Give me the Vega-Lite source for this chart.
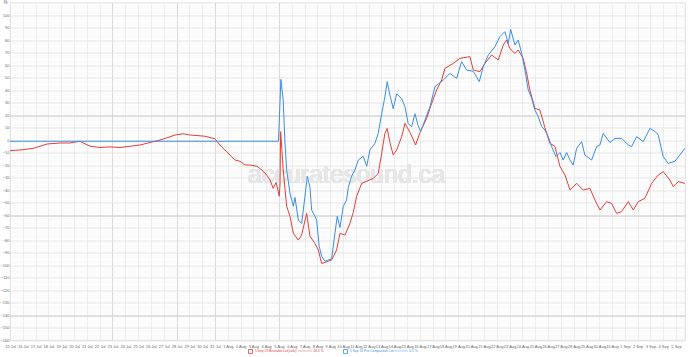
{
  "$schema": "https://vega.github.io/schema/vega-lite/v6.json",
  "width": 675,
  "height": 337.5,
  "autosize": {"type": "none"},
  "padding": {"left": 10, "top": 2.5, "right": 5, "bottom": 14.5},
  "background": "#ffffff",
  "config": {
    "view": {"stroke": "#d4d4d4", "strokeWidth": 0.8},
    "axis": {"labelFont": "Liberation Sans", "labelColor": "#666666", "labelFontSize": 4, "domain": false, "ticks": false, "title": null}
  },
  "data": {"values": [
    {"s":"r","t":0,"v":-8.5},{"s":"r","t":0.78,"v":-8},{"s":"r","t":1.80,"v":-6.7},{"s":"r","t":2.89,"v":-3.2},{"s":"r","t":3.90,"v":-2.4},{"s":"r","t":4.68,"v":-2.4},{"s":"r","t":5.46,"v":-1},{"s":"r","t":6.25,"v":-5},{"s":"r","t":7.03,"v":-6},{"s":"r","t":7.81,"v":-5.5},{"s":"r","t":8.59,"v":-6},{"s":"r","t":9.37,"v":-5},{"s":"r","t":10.15,"v":-4},{"s":"r","t":10.93,"v":-2},{"s":"r","t":11.71,"v":0},{"s":"r","t":12.33,"v":2},{"s":"r","t":12.88,"v":4},{"s":"r","t":13.51,"v":5},{"s":"r","t":14.05,"v":4},{"s":"r","t":14.68,"v":3.5},{"s":"r","t":15.22,"v":3},{"s":"r","t":16.00,"v":1},{"s":"r","t":16.39,"v":-4},{"s":"r","t":16.78,"v":-8},{"s":"r","t":17.17,"v":-12},{"s":"r","t":17.56,"v":-16},{"s":"r","t":17.95,"v":-17},{"s":"r","t":18.35,"v":-20},{"s":"r","t":18.74,"v":-20},{"s":"r","t":19.28,"v":-21},{"s":"r","t":19.67,"v":-24},{"s":"r","t":20.04,"v":-28},{"s":"r","t":20.30,"v":-32},{"s":"r","t":20.55,"v":-38.7},{"s":"r","t":20.77,"v":-34},{"s":"r","t":20.92,"v":-40},{"s":"r","t":21.02,"v":-45},{"s":"r","t":21.08,"v":-36},{"s":"r","t":21.13,"v":6.7},{"s":"r","t":21.23,"v":-8},{"s":"r","t":21.33,"v":-24},{"s":"r","t":21.60,"v":-53},{"s":"r","t":21.86,"v":-61},{"s":"r","t":22.12,"v":-74.7},{"s":"r","t":22.51,"v":-80},{"s":"r","t":22.77,"v":-76},{"s":"r","t":23.16,"v":-58.7},{"s":"r","t":23.42,"v":-77},{"s":"r","t":23.81,"v":-82.7},{"s":"r","t":24.07,"v":-88},{"s":"r","t":24.33,"v":-98.7},{"s":"r","t":24.59,"v":-98},{"s":"r","t":24.82,"v":-97},{"s":"r","t":25.11,"v":-96},{"s":"r","t":25.50,"v":-88},{"s":"r","t":25.76,"v":-74.7},{"s":"r","t":26.15,"v":-76},{"s":"r","t":26.54,"v":-66.7},{"s":"r","t":26.80,"v":-58},{"s":"r","t":27.06,"v":-45},{"s":"r","t":27.46,"v":-34.7},{"s":"r","t":27.85,"v":-33},{"s":"r","t":28.36,"v":-30.7},{"s":"r","t":28.75,"v":-26.7},{"s":"r","t":29.02,"v":-10.7},{"s":"r","t":29.27,"v":5.3},{"s":"r","t":29.45,"v":9.3},{"s":"r","t":29.66,"v":-2},{"s":"r","t":29.92,"v":-12},{"s":"r","t":30.19,"v":-8},{"s":"r","t":30.58,"v":2.7},{"s":"r","t":30.84,"v":13.3},{"s":"r","t":31.23,"v":6},{"s":"r","t":31.67,"v":-4},{"s":"r","t":32.01,"v":6},{"s":"r","t":32.53,"v":17.3},{"s":"r","t":32.92,"v":29.3},{"s":"r","t":33.31,"v":40},{"s":"r","t":33.70,"v":48},{"s":"r","t":33.96,"v":57.3},{"s":"r","t":34.61,"v":61.3},{"s":"r","t":35.13,"v":65.3},{"s":"r","t":35.91,"v":66.7},{"s":"r","t":36.17,"v":56},{"s":"r","t":36.69,"v":54.7},{"s":"r","t":37.08,"v":61.3},{"s":"r","t":37.60,"v":68},{"s":"r","t":38.12,"v":64},{"s":"r","t":38.51,"v":76},{"s":"r","t":38.77,"v":80},{"s":"r","t":39.03,"v":73},{"s":"r","t":39.42,"v":69.3},{"s":"r","t":39.68,"v":72},{"s":"r","t":40.07,"v":65.3},{"s":"r","t":40.34,"v":53.3},{"s":"r","t":40.59,"v":40},{"s":"r","t":40.98,"v":25.3},{"s":"r","t":41.37,"v":24},{"s":"r","t":41.76,"v":10},{"s":"r","t":42.15,"v":-2.7},{"s":"r","t":42.54,"v":-5},{"s":"r","t":42.94,"v":-21.3},{"s":"r","t":43.33,"v":-28},{"s":"r","t":43.72,"v":-40},{"s":"r","t":44.24,"v":-34.7},{"s":"r","t":44.75,"v":-40},{"s":"r","t":45.28,"v":-38.7},{"s":"r","t":45.67,"v":-48},{"s":"r","t":46.06,"v":-56},{"s":"r","t":46.58,"v":-49.3},{"s":"r","t":46.97,"v":-50.7},{"s":"r","t":47.36,"v":-58.7},{"s":"r","t":47.75,"v":-57.3},{"s":"r","t":48.27,"v":-49.3},{"s":"r","t":48.66,"v":-56},{"s":"r","t":49.05,"v":-49.3},{"s":"r","t":49.57,"v":-46.7},{"s":"r","t":50.09,"v":-34.7},{"s":"r","t":50.61,"v":-28},{"s":"r","t":51.00,"v":-25.3},{"s":"r","t":51.52,"v":-32},{"s":"r","t":51.78,"v":-37.3},{"s":"r","t":52.17,"v":-33.3},{"s":"r","t":52.69,"v":-34.7},
    {"s":"b","t":0,"v":-1},{"s":"b","t":7.03,"v":-1},{"s":"b","t":14.83,"v":-1},{"s":"b","t":20.96,"v":-1},{"s":"b","t":21.15,"v":48.5},{"s":"b","t":21.33,"v":32},{"s":"b","t":21.47,"v":-2.4},{"s":"b","t":21.60,"v":-24},{"s":"b","t":21.86,"v":-42.7},{"s":"b","t":22.12,"v":-53},{"s":"b","t":22.25,"v":-46},{"s":"b","t":22.51,"v":-64},{"s":"b","t":22.77,"v":-66.7},{"s":"b","t":23.03,"v":-45},{"s":"b","t":23.21,"v":-29},{"s":"b","t":23.42,"v":-38},{"s":"b","t":23.55,"v":-56},{"s":"b","t":23.81,"v":-61},{"s":"b","t":23.94,"v":-64},{"s":"b","t":24.14,"v":-85},{"s":"b","t":24.33,"v":-93},{"s":"b","t":24.59,"v":-97},{"s":"b","t":24.85,"v":-96},{"s":"b","t":25.11,"v":-95},{"s":"b","t":25.37,"v":-74.7},{"s":"b","t":25.55,"v":-61},{"s":"b","t":25.76,"v":-70},{"s":"b","t":26.02,"v":-53},{"s":"b","t":26.28,"v":-48},{"s":"b","t":26.41,"v":-38},{"s":"b","t":26.67,"v":-29},{"s":"b","t":26.93,"v":-24},{"s":"b","t":27.19,"v":-16},{"s":"b","t":27.58,"v":-13},{"s":"b","t":27.85,"v":-21},{"s":"b","t":28.10,"v":-8},{"s":"b","t":28.49,"v":-2.7},{"s":"b","t":28.75,"v":5.3},{"s":"b","t":29.02,"v":21},{"s":"b","t":29.27,"v":34.7},{"s":"b","t":29.45,"v":46.7},{"s":"b","t":29.66,"v":36},{"s":"b","t":29.92,"v":25},{"s":"b","t":30.19,"v":37},{"s":"b","t":30.58,"v":33},{"s":"b","t":30.84,"v":26.7},{"s":"b","t":31.09,"v":13},{"s":"b","t":31.36,"v":10.7},{"s":"b","t":31.62,"v":21},{"s":"b","t":31.85,"v":12},{"s":"b","t":32.06,"v":6.7},{"s":"b","t":32.40,"v":16},{"s":"b","t":32.79,"v":26.7},{"s":"b","t":33.18,"v":42.7},{"s":"b","t":33.83,"v":48},{"s":"b","t":34.35,"v":53.3},{"s":"b","t":34.87,"v":49.3},{"s":"b","t":35.26,"v":62.7},{"s":"b","t":35.65,"v":56},{"s":"b","t":36.17,"v":55},{"s":"b","t":36.64,"v":46.7},{"s":"b","t":36.95,"v":58.7},{"s":"b","t":37.34,"v":68},{"s":"b","t":37.86,"v":74.7},{"s":"b","t":38.25,"v":82.7},{"s":"b","t":38.64,"v":86.7},{"s":"b","t":38.90,"v":77.3},{"s":"b","t":39.09,"v":88.5},{"s":"b","t":39.42,"v":76},{"s":"b","t":39.68,"v":80},{"s":"b","t":39.95,"v":69.3},{"s":"b","t":40.20,"v":56},{"s":"b","t":40.46,"v":40},{"s":"b","t":40.73,"v":33.3},{"s":"b","t":40.98,"v":24},{"s":"b","t":41.24,"v":18.7},{"s":"b","t":41.51,"v":10.7},{"s":"b","t":41.76,"v":8},{"s":"b","t":42.02,"v":2.7},{"s":"b","t":42.29,"v":-5.3},{"s":"b","t":42.62,"v":-13.3},{"s":"b","t":42.94,"v":-10},{"s":"b","t":43.19,"v":-16},{"s":"b","t":43.46,"v":-10},{"s":"b","t":43.72,"v":-16},{"s":"b","t":43.97,"v":-20},{"s":"b","t":44.24,"v":-6.7},{"s":"b","t":44.63,"v":-1.3},{"s":"b","t":44.88,"v":-12},{"s":"b","t":45.41,"v":-16},{"s":"b","t":45.80,"v":-5.3},{"s":"b","t":46.06,"v":-4},{"s":"b","t":46.31,"v":5.3},{"s":"b","t":46.84,"v":-2},{"s":"b","t":47.23,"v":1.3},{"s":"b","t":47.75,"v":1.3},{"s":"b","t":48.27,"v":-4},{"s":"b","t":48.53,"v":-5.3},{"s":"b","t":48.92,"v":2.7},{"s":"b","t":49.44,"v":-1.3},{"s":"b","t":49.96,"v":9.3},{"s":"b","t":50.35,"v":7},{"s":"b","t":50.61,"v":4},{"s":"b","t":51.00,"v":-13.3},{"s":"b","t":51.39,"v":-18.7},{"s":"b","t":51.91,"v":-17},{"s":"b","t":52.30,"v":-12},{"s":"b","t":52.69,"v":-6.7}
  ]},
  "resolve": {"axis": {"x": "independent", "y": "independent"}},
  "layer": [
    {
      "mark": {"type": "point", "opacity": 0},
      "encoding": {
        "x": {"field": "t", "type": "quantitative", "scale": {"domain": [0, 52.7], "nice": false, "zero": false}, "axis": null},
        "y": {"field": "v", "type": "quantitative", "scale": {"domain": [-160, 110], "nice": false, "zero": false},
          "axis": {"orient": "left", "labels": false, "grid": true, "gridColor": "#f1f1f1", "gridWidth": 0.6,
            "values": [-160,-158,-156,-154,-152,-150,-148,-146,-144,-142,-140,-138,-136,-134,-132,-130,-128,-126,-124,-122,-120,-118,-116,-114,-112,-110,-108,-106,-104,-102,-100,-98,-96,-94,-92,-90,-88,-86,-84,-82,-80,-78,-76,-74,-72,-70,-68,-66,-64,-62,-60,-58,-56,-54,-52,-50,-48,-46,-44,-42,-40,-38,-36,-34,-32,-30,-28,-26,-24,-22,-20,-18,-16,-14,-12,-10,-8,-6,-4,-2,0,2,4,6,8,10,12,14,16,18,20,22,24,26,28,30,32,34,36,38,40,42,44,46,48,50,52,54,56,58,60,62,64,66,68,70,72,74,76,78,80,82,84,86,88,90,92,94,96,98,100,102,104,106,108,110]}}
      }
    },
    {
      "mark": {"type": "point", "opacity": 0},
      "encoding": {
        "x": {"field": "t", "type": "quantitative", "scale": {"domain": [0, 52.7], "nice": false, "zero": false},
          "axis": {"orient": "bottom", "grid": true, "gridColor": "#e2e2e2", "gridWidth": 0.7, "labelPadding": 4, "labelFlush": false,
            "values": [0,1,2,3,4,5,6,7,8,9,10,11,12,13,14,15,16,17,18,19,20,21,22,23,24,25,26,27,28,29,30,31,32,33,34,35,36,37,38,39,40,41,42,43,44,45,46,47,48,49,50,51,52],
            "labelExpr": "utcFormat(datum.value * 86400000 + 1689379200000, '%-d %b')"}},
        "y": {"field": "v", "type": "quantitative", "scale": {"domain": [-160, 110], "nice": false, "zero": false},
          "axis": {"orient": "left", "grid": true, "gridColor": "#e0e0e0", "gridWidth": 0.7, "labelPadding": 1, "labelFlush": false,
            "values": [-160,-150,-140,-130,-120,-110,-100,-90,-80,-70,-60,-50,-40,-30,-20,-10,0,10,20,30,40,50,60,70,80,90,100],
            "title": "%", "titleAngle": 0, "titleX": -7, "titleY": 0, "titleFontSize": 4.5, "titleFontWeight": "normal", "titleColor": "#666666", "titleFont": "Liberation Sans", "titleBaseline": "middle", "titleAlign": "left"}}
      }
    },
    {
      "mark": {"type": "point", "opacity": 0},
      "encoding": {
        "x": {"field": "t", "type": "quantitative", "scale": {"domain": [0, 52.7], "nice": false, "zero": false},
          "axis": {"orient": "bottom", "labels": false, "grid": true, "gridColor": "#cdcdcd", "gridWidth": 0.8, "values": [8, 13, 16, 21]}},
        "y": {"field": "v", "type": "quantitative", "scale": {"domain": [-160, 110], "nice": false, "zero": false},
          "axis": {"orient": "left", "labels": false, "grid": true, "gridColor": "#cbcbcb", "gridWidth": 0.9, "values": [20, -60, -140]}}
      }
    },
    {
      "mark": {"type": "text", "text": "accuratesound.ca", "font": "Liberation Sans", "fontSize": 25, "color": "#e6e6e6", "align": "center", "baseline": "alphabetic"},
      "encoding": {
        "x": {"datum": 26.27, "type": "quantitative", "axis": null},
        "y": {"datum": -34.6, "type": "quantitative", "axis": null}
      }
    },
    {
      "mark": {"type": "line", "strokeWidth": 1, "interpolate": "linear"},
      "encoding": {
        "x": {"field": "t", "type": "quantitative", "axis": null},
        "y": {"field": "v", "type": "quantitative", "axis": null},
        "color": {"field": "s", "type": "nominal",
          "scale": {"domain": ["r", "b"], "range": ["#e2403a", "#3a8ee6"]},
          "legend": {"orient": "none", "legendX": 238, "legendY": 346, "direction": "horizontal", "columns": 2, "title": null,
            "symbolType": "square", "symbolSize": 16, "symbolStrokeWidth": 0.8, "symbolStrokeColor": "#3b82f6", "symbolFillColor": "#ffffff",
            "labelFontSize": 3.3, "labelFont": "Liberation Sans",
            "labelOffset": 2, "columnPadding": 8, "labelLimit": 400,
            "labelExpr": "datum.value == 'r' ? '5 Sep 23 Bearable Lot(calls)      ━━━━━━━      -16.5 %' : '5 Sep 23 Pre Comparison Lot      ━━━━━━━      0.1 %'",
            "encode": {
              "symbols": {
                "enter": {"stroke": {"value": "#3b82f6"}, "fill": {"value": "#ffffff"}},
                "update": {"stroke": {"value": "#3b82f6"}, "fill": {"value": "#ffffff"}, "strokeWidth": {"value": 0.8}}
              },
              "labels": {"update": {"fill": {"signal": "datum.value == 'r' ? '#e2403a' : '#3a8ee6'"}}}
            }}},
        "order": {"field": "t", "type": "quantitative"}
      }
    }
  ]
}
